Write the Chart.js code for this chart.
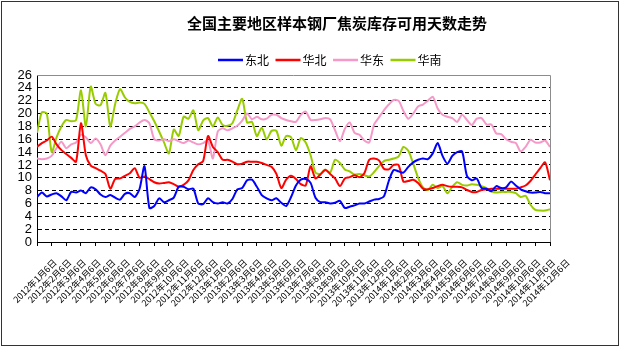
<!DOCTYPE html>
<html>
<head>
<meta charset="utf-8">
<script src="https://cdn.jsdelivr.net/npm/chart.js@4.4.1/dist/chart.umd.min.js"></script>
<style>
  html, body { margin: 0; padding: 0; background: #fff; }
</style>
</head>
<body>
<canvas id="chart" width="621" height="348"></canvas>
<script>
var titleText = "全国主要地区样本钢厂焦炭库存可用天数走势";

var monthLabels = [
  "2012年1月6日", "2012年2月6日", "2012年3月6日", "2012年4月6日", "2012年5月6日", "2012年6月6日",
  "2012年7月6日", "2012年8月6日", "2012年9月6日", "2012年10月6日", "2012年11月6日", "2012年12月6日",
  "2013年1月6日", "2013年2月6日", "2013年3月6日", "2013年4月6日", "2013年5月6日", "2013年6月6日",
  "2013年7月6日", "2013年8月6日", "2013年9月6日", "2013年10月6日", "2013年11月6日", "2013年12月6日",
  "2014年1月6日", "2014年2月6日", "2014年3月6日", "2014年4月6日", "2014年5月6日", "2014年6月6日",
  "2014年7月6日", "2014年8月6日", "2014年9月6日", "2014年10月6日", "2014年11月6日", "2014年12月6日"
];

// three readings per month
var perMonth = 3;

var dongbei = [
  7, 7.7, 7.1, 7.4, 7.6, 7.1, 6.5, 7.8, 7.7, 8, 7.6, 8.5, 8.2, 7.4, 7, 7.3, 6.9, 6.6,
  7.5, 7.6, 7, 8.3, 11.8, 5.3, 5.6, 6.8, 6.2, 6.5, 6.9, 8.6, 8.6, 8.2, 8.3, 6, 5.9, 6.8,
  6.2, 6, 6.2, 6, 6.7, 8.2, 8.4, 9.6, 9.7, 8.6, 7.3, 6.8, 6.5, 6.8, 6.1, 5.6, 7, 8.8,
  9.7, 9.8, 9.2, 6.9, 6.2, 6.2, 6, 6.1, 6.4, 5.3, 5.5, 5.7, 6, 6, 6.3, 6.6, 6.7, 7.1,
  9.5, 11.2, 11, 10.8, 11.7, 12.4, 12.8, 13, 12.9, 13.8, 15.4, 13.4, 12.2, 13.4, 14, 14.1,
  10.3, 9.6, 9.9, 8.4, 8.3, 7.9, 8.7, 8.4, 8.5, 9.4, 8.8, 8.2, 7.9, 7.7, 7.7, 7.8, 7.6, 7.6
];

var huabei = [
  14.8, 15.4, 15.8, 16.4, 15.2, 14.3, 13.7, 13.1, 12.5, 18.5, 13.5, 11.9, 11.5, 11.1, 10.6, 8.3, 9.8, 9.9,
  10.3, 10.7, 11.5, 10, 10.2, 9.8, 9.3, 9.1, 9.2, 9.3, 9, 8.6, 8.9, 9.6, 11.2, 12.1, 12.6, 16.5,
  14.8, 14, 12.8, 12.8, 12.5, 12.1, 12.2, 12.5, 12.5, 12.5, 12.3, 12, 11.7, 10.6, 8.4, 9.7, 10.3, 9.8,
  9, 8.8, 11.8, 9.9, 10.5, 11.2, 10.6, 9.9, 8.7, 9.9, 10.1, 10.4, 10.1, 10.7, 12.8, 13, 12.7, 11.4,
  11.3, 12, 12, 9.4, 9.5, 9.7, 9.2, 8.3, 8.2, 8.4, 8.7, 8.9, 8.7, 8.6, 8.6, 8.5,
  8.1, 7.8, 7.8, 8.1, 8.2, 8.3, 8.3, 8.3, 8.3, 8.3, 8.3, 8.5, 8.8, 9.5, 10.5, 11.5, 12.4, 9.6
];

var huadong = [
  13, 12.9, 13, 13.4, 14.6, 15.6, 14.6, 15.2, 15.5, 16.7, 16.3, 15.4, 16.1, 15.2, 13.5, 15, 15.8, 16.4,
  17, 17.6, 18, 18.6, 19, 18.5, 16, 15.8, 16, 15.7, 16, 15.7, 15.4, 15.8, 15.5, 15.2, 15.4, 15.8,
  13, 17.2, 17.7, 17.4, 17.7, 18.1, 18.9, 20, 19.1, 19.5, 19.1, 19.2, 19.8, 19.8, 19.3, 19, 18.8, 18.7,
  19.8, 20.3, 19, 19, 19.1, 19.3, 19.1, 17.4, 15.7, 17.6, 18.6, 17, 16.7, 15.8, 15.5, 18.3, 19.4, 20.5,
  21.4, 22.1, 22, 20.4, 19.2, 20, 21.1, 21.4, 22, 22.6, 20.8, 19.8, 19.5, 19.3, 18.7, 19.8,
  19, 18.2, 19.2, 19.3, 18.3, 18.3, 16.9, 16.8, 16, 15.6, 15.4, 14.1, 14.8, 15.9, 15.5, 15.5, 15.8, 14.8
];

var huanan = [
  17, 20.2, 20, 14, 16.3, 18, 19, 18.8, 19, 23.6, 18, 24.2, 21.5, 21.3, 23.2, 18, 21.5, 23.8,
  22.5, 21.8, 21.6, 21.7, 21.5, 20.2, 18.8, 17.2, 15.5, 13.8, 17.5, 16.5, 19.5, 19.2, 20.5, 17.4, 18.9, 19.3,
  18, 19.4, 18.2, 18.1, 18.5, 20.5, 22.3, 18.6, 18.7, 16.5, 17.8, 16, 17.3, 17.3, 15, 16.5, 16.3, 14.3,
  16.2, 15.5, 13.5, 10.8, 10.6, 11.3, 10.8, 12.8, 12.3, 11.3, 11, 10.5, 10.6, 10.4, 10.2, 10.9, 11.8, 12.6,
  12.8, 13, 13.3, 14.8, 14.2, 12.2, 10, 8.5, 8.1, 8.9, 8.4, 8.7, 7.6, 8.6, 9.3, 8.9,
  8.8, 9, 8.9, 8.7, 8.4, 7.9, 7.7, 7.8, 7.8, 7.8, 7.6, 7, 7.2, 5.8, 5, 4.9, 4.9, 5.1
];

function toPoints(arr) {
  return arr.map(function (v, i) { return { x: i / perMonth, y: v }; });
}

var decor = {
  id: 'decor',
  afterDraw: function (chart) {
    var ctx = chart.ctx, a = chart.chartArea;
    ctx.save();
    // plot frame (top / right)
    ctx.strokeStyle = '#8c8c8c';
    ctx.lineWidth = 1;
    ctx.setLineDash([]);
    ctx.beginPath();
    ctx.moveTo(a.left, a.top + 0.5);
    ctx.lineTo(a.right + 0.5, a.top + 0.5);
    ctx.lineTo(a.right + 0.5, a.bottom);
    ctx.stroke();
    // outer border
    ctx.strokeStyle = '#333';
    ctx.strokeRect(1.5, 1.5, 617, 344);
    // title
    ctx.fillStyle = '#000';
    ctx.textAlign = 'center';
    ctx.textBaseline = 'middle';
    ctx.font = 'bold 15px "Noto Sans CJK SC"';
    ctx.fillText(titleText, 337, 23);
    // legend
    ctx.font = '12px "Noto Sans CJK SC"';
    ctx.textAlign = 'left';
    var x = 218;
    chart.data.datasets.forEach(function (ds) {
      ctx.strokeStyle = ds.borderColor;
      ctx.lineWidth = 2.5;
      ctx.beginPath();
      ctx.moveTo(x, 60);
      ctx.lineTo(x + 25, 60);
      ctx.stroke();
      ctx.fillText(ds.label, x + 27, 60);
      x += 57.5;
    });
    ctx.restore();
  }
};

new Chart(document.getElementById("chart"), {
  type: 'line',
  data: {
    datasets: [
      { label: "东北", data: toPoints(dongbei), borderColor: '#0000ff' },
      { label: "华北", data: toPoints(huabei), borderColor: '#ff0000' },
      { label: "华东", data: toPoints(huadong), borderColor: '#f59ac8' },
      { label: "华南", data: toPoints(huanan), borderColor: '#99cc00' }
    ]
  },
  options: {
    responsive: false,
    animation: false,
    devicePixelRatio: 1,
    layout: { padding: { top: 75, right: 71, left: 0, bottom: 0 } },
    elements: {
      point: { radius: 0 },
      line: { borderWidth: 2, tension: 0.25 }
    },
    plugins: {
      legend: { display: false },
      title: { display: false },
      tooltip: { enabled: false }
    },
    scales: {
      x: {
        type: 'linear',
        min: 0,
        max: 35,
        afterFit: function (scale) {
          scale.height = 106;
          scale.paddingLeft = 0;
          scale.paddingRight = 0;
        },
        border: { color: '#000', width: 1 },
        grid: { drawOnChartArea: false, drawTicks: true, tickLength: 4, color: '#000' },
        ticks: {
          stepSize: 1,
          autoSkip: false,
          maxRotation: 45,
          minRotation: 45,
          padding: 11,
          labelOffset: 18,
          color: '#000',
          font: { family: '"Noto Sans CJK SC"', size: 9 },
          callback: function (v) { return monthLabels[v]; }
        }
      },
      y: {
        min: 0,
        max: 26,
        afterFit: function (scale) { scale.width = 37; },
        border: { color: '#000', width: 1, dash: [4, 3] },
        grid: {
          drawTicks: false,
          color: function (c) { return c.tick.value === 26 ? 'rgba(0,0,0,0)' : '#000'; }
        },
        ticks: {
          stepSize: 2,
          autoSkip: false,
          padding: 5,
          color: '#000',
          font: { family: '"Liberation Sans"', size: 13 }
        }
      }
    }
  },
  plugins: [decor]
});
</script>
</body>
</html>
